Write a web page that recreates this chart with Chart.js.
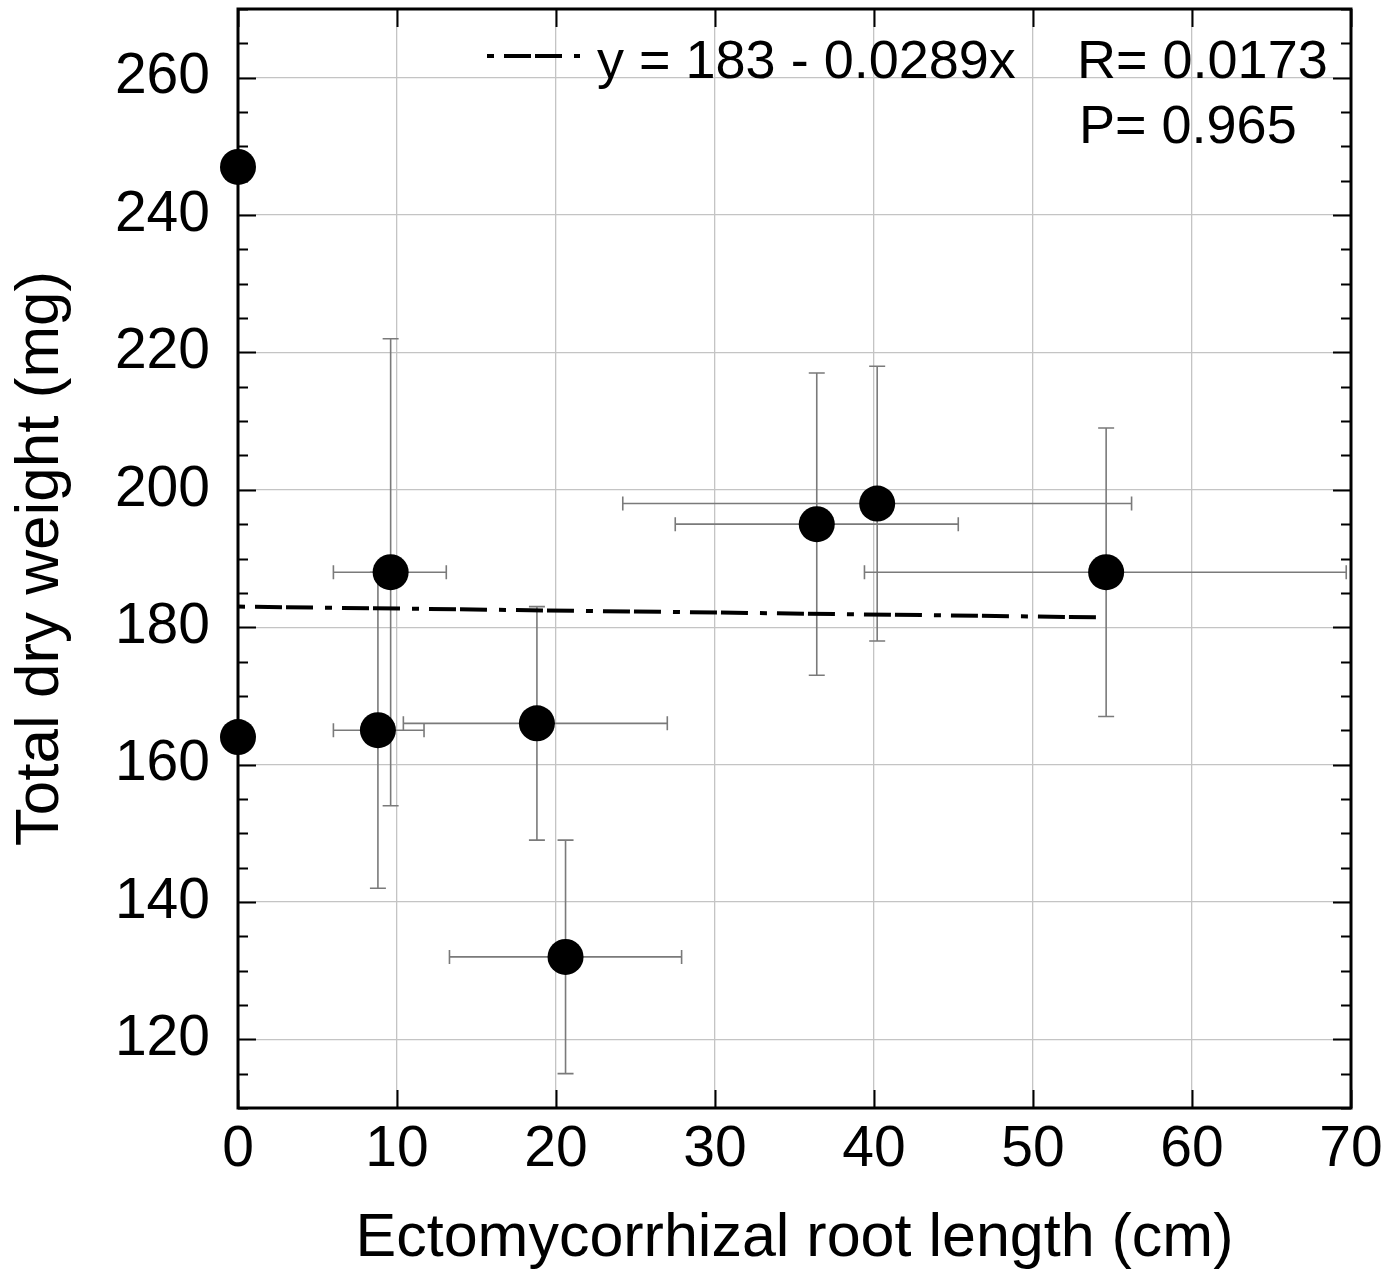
<!DOCTYPE html>
<html>
<head>
<meta charset="utf-8">
<script src="https://cdn.jsdelivr.net/npm/chart.js@4.4.0/dist/chart.umd.min.js"></script>
<style>
  html, body { margin: 0; padding: 0; background: #fff; }
  #wrap { width: 1386px; height: 1276px; }
</style>
</head>
<body>
<div id="wrap"><canvas id="chart" width="1386" height="1276"></canvas></div>
<script>
// root length (cm) and dry weight (mg)
const rootLen   = [0,   0,   8.8, 9.6, 18.8, 20.6, 36.4, 40.2, 54.6]
const dryWeight = [247, 164, 165, 188, 166,  132,  195,  198,  188]
// error bar extents (null = no bar)
const xLow  = [null, null, 6.0,  6.0,  10.4, 13.3, 27.5, 24.2, 39.4]
const xHigh = [null, null, 11.7, 13.1, 27.0, 27.9, 45.3, 56.2, 69.7]
const yLow  = [null, null, 142,  154,  149,  115,  173,  178,  167]
const yHigh = [null, null, 188,  222,  183,  149,  217,  218,  209]

// regression y = 183 - 0.0289x, drawn over the data range
const fitX = [0, 54.2]
const fitY = fitX.map(x => 183 - 0.0289 * x)

const xTicks = [0, 10, 20, 30, 40, 50, 60, 70]
const yTicks = [120, 140, 160, 180, 200, 220, 240, 260]

const FONT = "'Liberation Sans', Arial, sans-serif"
const fitDash = [7, 10, 27, 4, 27, 12]

const errorBars = {
  id: 'errorBars',
  beforeDatasetsDraw(chart) {
    const { ctx, scales: { x, y } } = chart
    ctx.save()
    ctx.strokeStyle = '#7a7a7a'
    ctx.lineWidth = 1.6
    rootLen.forEach((rx, i) => {
      const px = x.getPixelForValue(rx)
      const py = y.getPixelForValue(dryWeight[i])
      if (yLow[i] != null) {
        const y1 = y.getPixelForValue(yLow[i]), y2 = y.getPixelForValue(yHigh[i])
        ctx.beginPath()
        ctx.moveTo(px, y1); ctx.lineTo(px, y2)
        ctx.moveTo(px - 8, y1); ctx.lineTo(px + 8, y1)
        ctx.moveTo(px - 8, y2); ctx.lineTo(px + 8, y2)
        ctx.stroke()
      }
      if (xLow[i] != null) {
        const x1 = x.getPixelForValue(xLow[i]), x2 = x.getPixelForValue(xHigh[i])
        ctx.beginPath()
        ctx.moveTo(x1, py); ctx.lineTo(x2, py)
        ctx.moveTo(x1, py - 7); ctx.lineTo(x1, py + 7)
        ctx.moveTo(x2, py - 7); ctx.lineTo(x2, py + 7)
        ctx.stroke()
      }
    })
    ctx.restore()
  }
}

const frame = {
  id: 'frame',
  afterDraw(chart) {
    const { ctx, chartArea: a, scales: { x, y } } = chart
    ctx.save()
    ctx.strokeStyle = '#000'
    // inward ticks
    ctx.lineWidth = 2
    ctx.beginPath()
    for (let v = 110; v <= 270; v += 5) {
      const py = Math.round(y.getPixelForValue(v)) + 0.5
      const len = v % 20 === 0 ? 18 : 10
      ctx.moveTo(a.left, py); ctx.lineTo(a.left + len, py)
      ctx.moveTo(a.right, py); ctx.lineTo(a.right - len, py)
    }
    xTicks.forEach(v => {
      const px = Math.round(x.getPixelForValue(v)) + 0.5
      ctx.moveTo(px, a.top); ctx.lineTo(px, a.top + 18)
      ctx.moveTo(px, a.bottom); ctx.lineTo(px, a.bottom - 18)
    })
    ctx.stroke()
    // box
    ctx.lineWidth = 3
    ctx.strokeRect(a.left, a.top, a.right - a.left, a.bottom - a.top)

    // legend / stats
    ctx.lineWidth = 4
    ctx.setLineDash(fitDash)
    ctx.beginPath()
    ctx.moveTo(487, 56); ctx.lineTo(580, 56)
    ctx.stroke()
    ctx.setLineDash([])
    ctx.fillStyle = '#000'
    ctx.font = '54px ' + FONT
    ctx.textBaseline = 'alphabetic'
    ctx.textAlign = 'left'
    ctx.fillText('y = 183 - 0.0289x', 597, 78)
    ctx.fillText('R= 0.0173', 1077, 78)
    ctx.fillText('P= 0.965', 1079, 143)
    ctx.restore()
  }
}

new Chart(document.getElementById('chart'), {
  type: 'scatter',
  data: {
    datasets: [
      {
        label: 'data',
        data: rootLen.map((v, i) => ({ x: v, y: dryWeight[i] })),
        pointRadius: 18,
        pointHoverRadius: 18,
        backgroundColor: '#000',
        borderColor: '#000',
        borderWidth: 0,
        clip: false
      },
      {
        label: 'fit',
        type: 'line',
        data: fitX.map((v, i) => ({ x: v, y: fitY[i] })),
        borderColor: '#000',
        borderWidth: 4,
        borderDash: fitDash,
        pointRadius: 0,
        fill: false
      }
    ]
  },
  options: {
    responsive: false,
    animation: false,
    events: [],
    layout: { autoPadding: false, padding: { top: 9, right: 35, left: 0, bottom: 0 } },
    plugins: { legend: { display: false }, tooltip: { enabled: false } },
    scales: {
      x: {
        type: 'linear',
        min: 0, max: 70,
        afterBuildTicks: s => { s.ticks = xTicks.map(v => ({ value: v })) },
        afterFit: s => { s.height = 168; s.paddingLeft = 0; s.paddingRight = 0 },
        grid: { color: '#c4c4c4', lineWidth: 1.3, drawTicks: false },
        border: { display: false },
        ticks: { color: '#000', font: { family: FONT, size: 57 }, padding: 8, maxRotation: 0 },
        title: {
          display: true,
          text: 'Ectomycorrhizal root length (cm)',
          color: '#000',
          font: { family: FONT, size: 61 },
          padding: { top: 14, bottom: 0 }
        }
      },
      y: {
        type: 'linear',
        min: 110, max: 270,
        afterBuildTicks: s => { s.ticks = yTicks.map(v => ({ value: v })) },
        afterFit: s => { s.width = 238; s.paddingTop = 0; s.paddingBottom = 0 },
        grid: { color: '#c4c4c4', lineWidth: 1.3, drawTicks: false },
        border: { display: false },
        ticks: { color: '#000', font: { family: FONT, size: 57 }, padding: 28 },
        title: {
          display: true,
          text: 'Total dry weight (mg)',
          color: '#000',
          font: { family: FONT, size: 62 },
          padding: { top: 4, bottom: 0 }
        }
      }
    }
  },
  plugins: [errorBars, frame]
})
</script>
</body>
</html>
